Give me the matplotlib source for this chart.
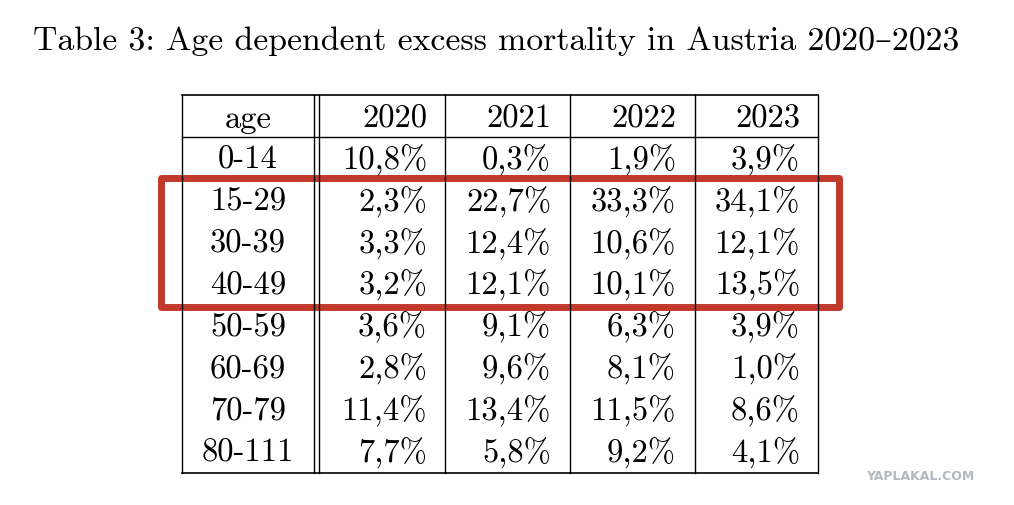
import matplotlib
matplotlib.use("Agg")
import matplotlib.pyplot as plt

title = "Table 3: Age dependent excess mortality in Austria 2020–2023"
years = ["2020", "2021", "2022", "2023"]
ages = ["0-14", "15-29", "30-39", "40-49", "50-59", "60-69", "70-79", "80-111"]
v2020 = ["10,8%", "2,3%", "3,3%", "3,2%", "3,6%", "2,8%", "11,4%", "7,7%"]
v2021 = ["0,3%", "22,7%", "12,4%", "12,1%", "9,1%", "9,6%", "13,4%", "5,8%"]
v2022 = ["1,9%", "33,3%", "10,6%", "10,1%", "6,3%", "8,1%", "11,5%", "9,2%"]
v2023 = ["3,9%", "34,1%", "12,1%", "13,5%", "3,9%", "1,0%", "8,6%", "4,1%"]

fam = ["cmr10", "DejaVu Serif"]
plt.rcParams["axes.formatter.use_mathtext"] = True
fig = plt.figure(figsize=(10.14, 5.06), dpi=100)
ax = fig.add_axes([0, 0, 1, 1])
ax.set_xlim(0, 1014); ax.set_ylim(506, 0); ax.axis("off")

ax.text(496, 41, title, ha="center", va="center", fontsize=24.3, family=fam)

L, R, T, B = 182, 818, 96, 474
cols = [L, 314, 445, 570, 695, R]
ax.plot([L, R], [T, T], color="black", lw=1.2)
ax.plot([L, R], [B, B], color="black", lw=1.2)
ax.plot([L, R], [138, 138], color="black", lw=1.0)
for x in cols:
    ax.plot([x, x], [T, B], color="black", lw=1.0)
ax.plot([319, 319], [T, B], color="black", lw=1.0)

fs = 23.5
rowh = 41.9
hy = 119
ax.text(248, hy, "age", ha="center", va="center", fontsize=fs, family=fam)
rights = [427, 551, 676, 800]
for yr, xr in zip(years, rights):
    ax.text(xr, hy, yr, ha="right", va="center", fontsize=fs, family=fam)
series = [v2020, v2021, v2022, v2023]
for i, a in enumerate(ages):
    y = 160 + i * rowh
    ax.text(248, y, a, ha="center", va="center", fontsize=fs, family=fam)
    for s, xr in zip(series, rights):
        ax.text(xr, y, s[i], ha="right", va="center", fontsize=fs, family=fam)

ax.add_patch(plt.Rectangle((161, 179), 678, 129, fill=False, ec="#c0392b", lw=5, joinstyle="round"))
ax.text(920, 477, "YAPLAKAL.COM", ha="center", va="center", fontsize=9, color="#b0b8c0", weight="bold", family="DejaVu Sans")

fig.savefig("out.png", dpi=100)
